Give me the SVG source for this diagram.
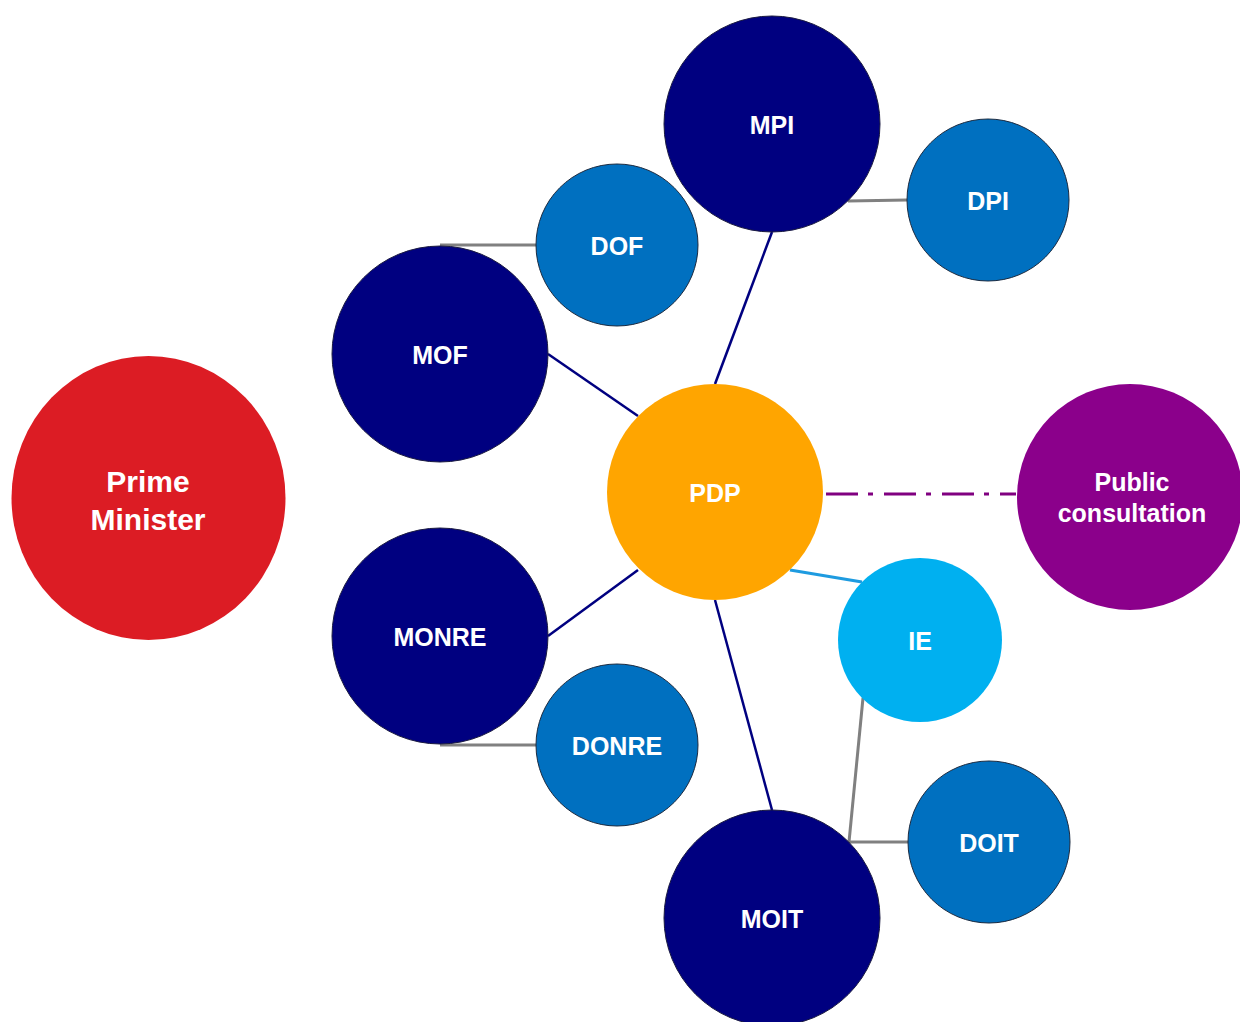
<svg xmlns="http://www.w3.org/2000/svg" width="1240" height="1022" viewBox="0 0 1240 1022">
<style>
text{font-family:"Liberation Sans",Arial,sans-serif;font-weight:bold;fill:#fff;text-anchor:middle;dominant-baseline:central}
.navy{fill:#000080;stroke:#1a1a40;stroke-width:1}
.mid{fill:#0070C0;stroke:#1a2a40;stroke-width:1}
.t{font-size:25px}
.l-navy{stroke:#000080;stroke-width:2.5;fill:none}
.l-gray{stroke:#808080;stroke-width:3;fill:none}
</style>
<rect width="1240" height="1022" fill="#fff"/>
<g id="connectors">
<line class="l-navy" x1="772" y1="232" x2="715" y2="384"/>
<line class="l-navy" x1="548" y1="354" x2="638" y2="416"/>
<line class="l-navy" x1="548" y1="636" x2="638" y2="570"/>
<line class="l-navy" x1="715" y1="600" x2="772" y2="810"/>
<line stroke="#1E9BE0" stroke-width="3" x1="790" y1="570" x2="862" y2="582"/>
<line stroke="#800080" stroke-width="3" stroke-dasharray="32 10 5 11" x1="826" y1="494" x2="1016" y2="494"/>
<line class="l-gray" x1="848" y1="201" x2="907" y2="200"/>
<line class="l-gray" x1="440" y1="245" x2="536" y2="245"/>
<line class="l-gray" x1="440" y1="745" x2="536" y2="745"/>
<line class="l-gray" x1="848" y1="842" x2="908" y2="842"/>
<line class="l-gray" x1="863" y1="698" x2="849" y2="842"/>
</g>
<g id="pm"><ellipse cx="148.5" cy="498" rx="137" ry="142" fill="#DC1C24"/><text x="148" y="481" font-size="30">Prime</text><text x="148" y="519" font-size="30">Minister</text></g>
<g id="mpi"><circle class="navy" cx="772" cy="124" r="108"/><text class="t" x="772" y="125">MPI</text></g>
<g id="dpi"><circle class="mid" cx="988" cy="200" r="81"/><text class="t" x="988" y="201">DPI</text></g>
<g id="dof"><circle class="mid" cx="617" cy="245" r="81"/><text class="t" x="617" y="246">DOF</text></g>
<g id="mof"><circle class="navy" cx="440" cy="354" r="108"/><text class="t" x="440" y="355">MOF</text></g>
<g id="pdp"><circle cx="715" cy="492" r="108" fill="#FFA500"/><text class="t" x="715" y="493">PDP</text></g>
<g id="public"><circle cx="1130" cy="497" r="113" fill="#8B008B"/><text class="t" x="1132" y="482">Public</text><text class="t" x="1132" y="513">consultation</text></g>
<g id="monre"><circle class="navy" cx="440" cy="636" r="108"/><text class="t" x="440" y="637">MONRE</text></g>
<g id="donre"><circle class="mid" cx="617" cy="745" r="81"/><text class="t" x="617" y="746">DONRE</text></g>
<g id="ie"><circle cx="920" cy="640" r="82" fill="#00B0F0"/><text class="t" x="920" y="641">IE</text></g>
<g id="doit"><circle class="mid" cx="989" cy="842" r="81"/><text class="t" x="989" y="843">DOIT</text></g>
<g id="moit"><circle class="navy" cx="772" cy="918" r="108"/><text class="t" x="772" y="919">MOIT</text></g>
</svg>
